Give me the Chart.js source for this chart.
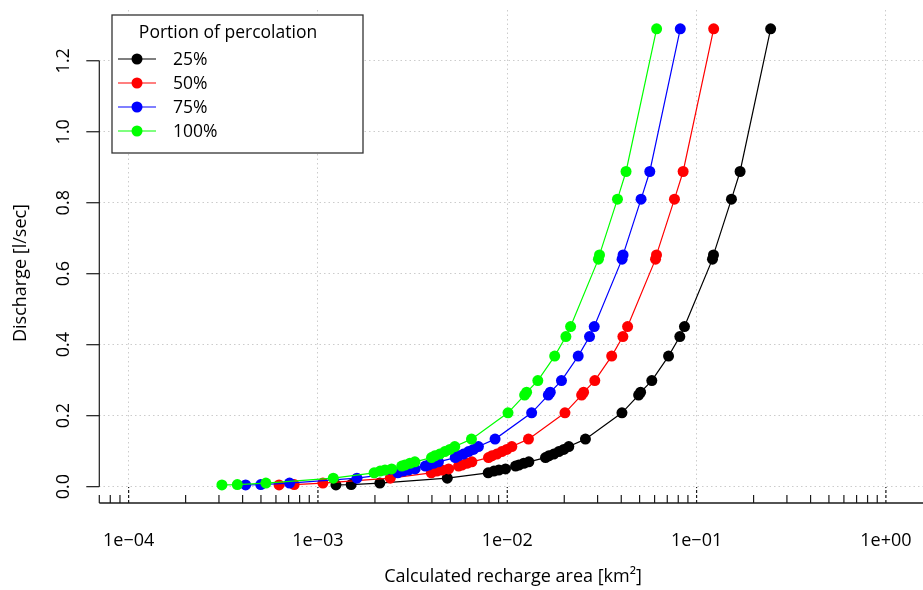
<!DOCTYPE html>
<html>
<head>
<meta charset="utf-8">
<script src="https://cdn.jsdelivr.net/npm/chart.js@4.4.1/dist/chart.umd.min.js"></script>
<style>
  html, body { margin: 0; padding: 0; background: #fff; }
  #wrap { width: 923px; height: 590px; }
</style>
</head>
<body>
<div id="wrap"><canvas id="chart" width="923" height="590"></canvas></div>
<script>
// values
const seriesLabels = ["25%", "50%", "75%", "100%"];
const seriesColors = ["#000000", "#ff0000", "#0000ff", "#00ff00"];

// discharge [l/sec], shared by all four curves
const discharge = [0.005, 0.006, 0.010, 0.024, 0.039, 0.044, 0.047, 0.050, 0.058, 0.061,
    0.066, 0.070, 0.082, 0.087, 0.092, 0.099, 0.105, 0.113, 0.134, 0.208,
    0.258, 0.266, 0.299, 0.368, 0.423, 0.451, 0.641, 0.653, 0.810, 0.888, 1.290];

// calculated recharge area [km2] per portion of percolation
const area25 = [1.245e-3, 1.498e-3, 2.123e-3, 4.82e-3, 7.93e-3, 8.50e-3, 9.03e-3, 9.79e-3, 1.106e-2, 1.151e-2,
    1.223e-2, 1.300e-2, 1.592e-2, 1.657e-2, 1.761e-2, 1.871e-2, 1.988e-2, 2.113e-2, 2.587e-2, 4.034e-2,
    4.94e-2, 5.06e-2, 5.80e-2, 7.11e-2, 8.155e-2, 8.63e-2, 0.1213, 0.1228, 0.1528, 0.1697, 0.2461];
const area50 = [6.23e-4, 7.49e-4, 1.062e-3, 2.41e-3, 3.97e-3, 4.25e-3, 4.52e-3, 4.90e-3, 5.53e-3, 5.76e-3,
    6.12e-3, 6.50e-3, 7.96e-3, 8.29e-3, 8.81e-3, 9.36e-3, 9.94e-3, 1.057e-2, 1.294e-2, 2.017e-2,
    2.47e-2, 2.53e-2, 2.90e-2, 3.56e-2, 4.08e-2, 4.32e-2, 6.07e-2, 6.14e-2, 7.64e-2, 8.49e-2, 0.1231];
const area75 = [4.15e-4, 4.99e-4, 7.08e-4, 1.607e-3, 2.64e-3, 2.83e-3, 3.01e-3, 3.26e-3, 3.69e-3, 3.84e-3,
    4.08e-3, 4.33e-3, 5.31e-3, 5.52e-3, 5.87e-3, 6.24e-3, 6.63e-3, 7.04e-3, 8.62e-3, 1.345e-2,
    1.647e-2, 1.687e-2, 1.933e-2, 2.37e-2, 2.72e-2, 2.88e-2, 4.04e-2, 4.09e-2, 5.09e-2, 5.66e-2, 8.20e-2];
const area100 = [3.11e-4, 3.75e-4, 5.31e-4, 1.205e-3, 1.98e-3, 2.13e-3, 2.26e-3, 2.45e-3, 2.77e-3, 2.88e-3,
    3.06e-3, 3.25e-3, 3.98e-3, 4.14e-3, 4.40e-3, 4.68e-3, 4.97e-3, 5.28e-3, 6.47e-3, 1.009e-2,
    1.235e-2, 1.265e-2, 1.45e-2, 1.78e-2, 2.04e-2, 2.16e-2, 3.03e-2, 3.07e-2, 3.82e-2, 4.24e-2, 6.15e-2];
const areas = [area25, area50, area75, area100];

const xTickValues = [1e-4, 1e-3, 1e-2, 1e-1, 1e0];
const xTickLabels = ["1e\u221204", "1e\u221203", "1e\u221202", "1e\u221201", "1e+00"];
const yTickValues = [0, 0.2, 0.4, 0.6, 0.8, 1.0, 1.2];
const yTickLabels = ["0.0", "0.2", "0.4", "0.6", "0.8", "1.0", "1.2"];

const legendTitle = "Portion of percolation";
const xTitle = "Calculated recharge area [km\u00b2]";
const yTitle = "Discharge [l/sec]";

const FONT = '"Open Sans", "DejaVu Sans", sans-serif';
const AXIS_COLOR = "#1a1a1a";

function line(ctx, x1, y1, x2, y2) {
    ctx.beginPath();
    ctx.moveTo(x1, y1);
    ctx.lineTo(x2, y2);
    ctx.stroke();
}

// R style axes: ticks pointing into the plot on x, outward on y
const rAxes = {
    id: "rAxes",
    afterDraw(chart) {
        const { ctx, chartArea } = chart;
        const x = chart.scales.x;
        const y = chart.scales.y;
        const axisY = chartArea.bottom;
        const axisX = chartArea.left;

        ctx.save();
        ctx.strokeStyle = AXIS_COLOR;

        // x axis line
        ctx.lineWidth = 1.5;
        line(ctx, chartArea.left, axisY, chartArea.right, axisY);

        // minor ticks
        ctx.lineWidth = 1.2;
        for (let e = -5; e <= 0; e++) {
            for (let k = 2; k <= 9; k++) {
                const v = k * Math.pow(10, e);
                if (v < x.min || v > x.max) continue;
                const px = x.getPixelForValue(v);
                line(ctx, px, axisY, px, axisY - 8);
            }
        }

        // major ticks, dashed
        ctx.setLineDash([3, 2]);
        x.ticks.forEach((t) => {
            const px = x.getPixelForValue(t.value);
            line(ctx, px, axisY, px, axisY - 16);
        });
        ctx.setLineDash([]);

        // y axis line and ticks
        const yTop = y.getPixelForValue(yTickValues[yTickValues.length - 1]);
        const yBot = y.getPixelForValue(yTickValues[0]);
        ctx.lineWidth = 1.2;
        line(ctx, axisX, yTop, axisX, yBot);
        y.ticks.forEach((t) => {
            const py = y.getPixelForValue(t.value);
            line(ctx, axisX - 13, py, axisX, py);
        });

        // tick labels
        ctx.fillStyle = "#000";
        ctx.font = "18px " + FONT;
        ctx.textAlign = "center";
        ctx.textBaseline = "middle";
        x.ticks.forEach((t, i) => {
            ctx.fillText(xTickLabels[i], x.getPixelForValue(t.value), 541);
        });
        y.ticks.forEach((t, i) => {
            ctx.save();
            ctx.translate(64, y.getPixelForValue(t.value));
            ctx.rotate(-Math.PI / 2);
            ctx.fillText(yTickLabels[i], 0, 0);
            ctx.restore();
        });

        // axis titles
        ctx.font = "18px " + FONT;
        ctx.fillText(xTitle, 513, 577);
        ctx.save();
        ctx.translate(21, 273);
        ctx.rotate(-Math.PI / 2);
        ctx.fillText(yTitle, 0, 0);
        ctx.restore();

        // legend box
        const bx = 112, by = 15, bw = 251, bh = 138;
        ctx.fillStyle = "#fff";
        ctx.fillRect(bx, by, bw, bh);
        ctx.strokeStyle = "#333";
        ctx.lineWidth = 1.3;
        ctx.strokeRect(bx, by, bw, bh);

        ctx.fillStyle = "#000";
        ctx.font = "17.5px " + FONT;
        ctx.textAlign = "center";
        ctx.fillText(legendTitle, 228, 33);

        ctx.textAlign = "left";
        chart.data.datasets.forEach((ds, i) => {
            const ly = 59 + i * 24;
            ctx.strokeStyle = ds.borderColor;
            ctx.lineWidth = 1.2;
            line(ctx, 118, ly, 156, ly);
            ctx.fillStyle = ds.backgroundColor;
            ctx.beginPath();
            ctx.arc(137, ly, 5.5, 0, Math.PI * 2);
            ctx.fill();
            ctx.fillStyle = "#000";
            ctx.fillText(ds.label, 173, ly + 1);
        });

        ctx.restore();
    },
};

const ctx = document.getElementById("chart").getContext("2d");

new Chart(ctx, {
    type: "line",
    data: {
        datasets: seriesLabels.map((label, i) => ({
            label: label,
            data: discharge.map((q, j) => ({ x: areas[i][j], y: q })),
            borderColor: seriesColors[i],
            backgroundColor: seriesColors[i],
            borderWidth: 1.2,
            pointRadius: 5.5,
            pointHoverRadius: 5.5,
            pointBorderWidth: 0,
            tension: 0,
            order: seriesLabels.length - i,
        })),
    },
    options: {
        responsive: false,
        animation: false,
        layout: {
            autoPadding: false,
            padding: { top: 10, left: 0, right: 0, bottom: 0 },
        },
        plugins: {
            legend: { display: false },
            tooltip: { enabled: false },
        },
        scales: {
            x: {
                type: "logarithmic",
                min: 7e-5,
                max: 1.57,
                afterBuildTicks: (scale) => {
                    scale.ticks = xTickValues.map((v) => ({ value: v }));
                },
                afterFit: (scale) => {
                    scale.height = 87;
                },
                ticks: { display: false },
                border: { display: false, dash: [1.5, 3] },
                grid: { color: "#cccccc", lineWidth: 1, drawTicks: false },
            },
            y: {
                min: -0.046,
                max: 1.343,
                afterBuildTicks: (scale) => {
                    scale.ticks = yTickValues.map((v) => ({ value: v }));
                },
                afterFit: (scale) => {
                    scale.width = 99.3;
                },
                ticks: { display: false },
                border: { display: false, dash: [1.5, 3] },
                grid: { color: "#cccccc", lineWidth: 1, drawTicks: false },
            },
        },
    },
    plugins: [rAxes],
});
</script>
</body>
</html>
